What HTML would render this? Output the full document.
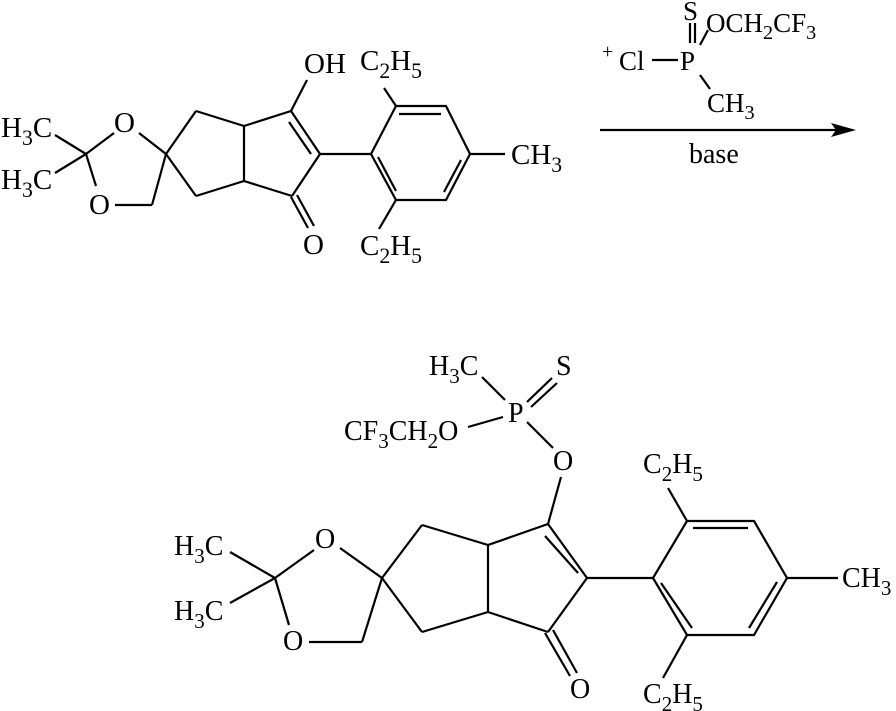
<!DOCTYPE html>
<html><head><meta charset="utf-8"><style>
html,body{margin:0;padding:0;background:#fff;}
svg{display:block;}
text{font-family:"Liberation Serif",serif;fill:#000;}
.s{font-size:75%;}
</style></head><body>
<svg width="896" height="711" viewBox="0 0 896 711" xmlns="http://www.w3.org/2000/svg">
<g stroke="#000" stroke-width="2.2" fill="none" stroke-linecap="butt">
<line x1="55" y1="135" x2="86" y2="154"/>
<line x1="55" y1="173" x2="86" y2="154"/>
<line x1="86" y1="154" x2="114" y2="133"/>
<line x1="86" y1="154" x2="96" y2="186"/>
<line x1="139" y1="133" x2="166" y2="154"/>
<line x1="115" y1="205" x2="152" y2="205"/>
<line x1="152" y1="205" x2="166" y2="154"/>
<line x1="166" y1="154" x2="196" y2="111"/>
<line x1="166" y1="154" x2="196" y2="196"/>
<line x1="196" y1="111" x2="244" y2="126"/>
<line x1="196" y1="196" x2="244" y2="181"/>
<line x1="244" y1="126" x2="244" y2="181"/>
<line x1="244" y1="126" x2="291" y2="111"/>
<line x1="291" y1="111" x2="320" y2="154"/>
<line x1="289" y1="122" x2="311" y2="154"/>
<line x1="320" y1="154" x2="292" y2="196"/>
<line x1="244" y1="181" x2="292" y2="196"/>
<line x1="291" y1="197" x2="308" y2="228"/>
<line x1="297" y1="195" x2="314" y2="226"/>
<line x1="291" y1="111" x2="307" y2="80"/>
<line x1="320" y1="154" x2="371" y2="154"/>
<polyline points="371,154 396,106 446,106 470,154 446,200 396,200 371,154"/>
<line x1="399" y1="114" x2="441" y2="114"/>
<line x1="378" y1="157" x2="396" y2="191"/>
<line x1="461" y1="160" x2="444" y2="192"/>
<line x1="470" y1="154" x2="505" y2="154"/>
<line x1="396" y1="106" x2="384" y2="88"/>
<line x1="396" y1="200" x2="379" y2="229"/>
<line x1="690" y1="23" x2="690" y2="43"/>
<line x1="695" y1="23" x2="695" y2="43"/>
<line x1="700" y1="45" x2="708" y2="30"/>
<line x1="652" y1="60" x2="678" y2="60"/>
<line x1="700" y1="75" x2="710" y2="89"/>
<line x1="600" y1="130" x2="840" y2="130"/>
<line x1="230" y1="552" x2="275" y2="578"/>
<line x1="230" y1="603" x2="275" y2="578"/>
<line x1="275" y1="578" x2="314" y2="550"/>
<line x1="275" y1="578" x2="289" y2="625"/>
<line x1="309" y1="642" x2="362" y2="642"/>
<line x1="362" y1="642" x2="382" y2="578"/>
<line x1="340" y1="548" x2="382" y2="578"/>
<line x1="382" y1="578" x2="422" y2="525"/>
<line x1="382" y1="578" x2="422" y2="632"/>
<line x1="422" y1="525" x2="488" y2="545"/>
<line x1="422" y1="632" x2="488" y2="612"/>
<line x1="488" y1="545" x2="488" y2="612"/>
<line x1="488" y1="545" x2="548" y2="524"/>
<line x1="488" y1="612" x2="548" y2="632"/>
<line x1="548" y1="524" x2="587" y2="578"/>
<line x1="545" y1="536" x2="578" y2="573"/>
<line x1="587" y1="578" x2="548" y2="632"/>
<line x1="545" y1="633" x2="570" y2="676"/>
<line x1="553" y1="630" x2="577" y2="673"/>
<line x1="561" y1="477" x2="548" y2="524"/>
<line x1="482" y1="377" x2="505" y2="400"/>
<line x1="527" y1="402" x2="552" y2="378"/>
<line x1="531" y1="407" x2="557" y2="383"/>
<line x1="468" y1="427" x2="503" y2="417"/>
<line x1="527" y1="422" x2="553" y2="448"/>
<line x1="587" y1="578" x2="653" y2="578"/>
<polyline points="653,578 687,521 754,521 787,578 754,635 687,635 653,578"/>
<line x1="693" y1="528" x2="748" y2="528"/>
<line x1="661" y1="583" x2="692" y2="628"/>
<line x1="777" y1="582" x2="749" y2="628"/>
<line x1="787" y1="578" x2="838" y2="578"/>
<line x1="687" y1="521" x2="668" y2="488"/>
<line x1="687" y1="635" x2="663" y2="678"/>
</g>
<polygon points="856,130 831,123 836,130 831,137" fill="#000"/>

<g style="font-size:29px">
<text x="1" y="137">H<tspan class="s" dy="8">3</tspan><tspan dy="-8">C</tspan></text>
<text x="1" y="189">H<tspan class="s" dy="8">3</tspan><tspan dy="-8">C</tspan></text>
<text x="114" y="132">O</text>
<text x="89" y="214">O</text>
<text x="304" y="73">OH</text>
<text x="303" y="254">O</text>
<text x="360" y="70">C<tspan class="s" dy="8">2</tspan><tspan dy="-8">H</tspan><tspan class="s" dy="8">5</tspan></text>
<text x="360" y="255">C<tspan class="s" dy="8">2</tspan><tspan dy="-8">H</tspan><tspan class="s" dy="8">5</tspan></text>
<text x="511" y="164">CH<tspan class="s" dy="8">3</tspan></text>
</g>
<g style="font-size:27px">
<text x="683" y="20">S</text>
<text x="706" y="32">OCH<tspan class="s" dy="7">2</tspan><tspan dy="-7">CF</tspan><tspan class="s" dy="7">3</tspan></text>
<text x="602" y="58" style="font-size:20px">+</text>
<text x="619" y="70">Cl</text>
<text x="680" y="70">P</text>
<text x="707" y="112">CH<tspan class="s" dy="7">3</tspan></text>
<text x="689" y="163" style="font-size:28px">base</text>
</g>
<g style="font-size:28px">
<text x="429" y="375">H<tspan class="s" dy="8">3</tspan><tspan dy="-8">C</tspan></text>
<text x="556" y="375">S</text>
<text x="508" y="422">P</text>
<text x="344" y="440">CF<tspan class="s" dy="8">3</tspan><tspan dy="-8">CH</tspan><tspan class="s" dy="8">2</tspan><tspan dy="-8">O</tspan></text>
<text x="553" y="470">O</text>
<text x="174" y="555">H<tspan class="s" dy="8">3</tspan><tspan dy="-8">C</tspan></text>
<text x="174" y="620">H<tspan class="s" dy="8">3</tspan><tspan dy="-8">C</tspan></text>
<text x="315" y="548">O</text>
<text x="283" y="650">O</text>
<text x="570" y="698">O</text>
<text x="643" y="473">C<tspan class="s" dy="8">2</tspan><tspan dy="-8">H</tspan><tspan class="s" dy="8">5</tspan></text>
<text x="643" y="703">C<tspan class="s" dy="8">2</tspan><tspan dy="-8">H</tspan><tspan class="s" dy="8">5</tspan></text>
<text x="842" y="587">CH<tspan class="s" dy="8">3</tspan></text>
</g>
</svg>
</body></html>
